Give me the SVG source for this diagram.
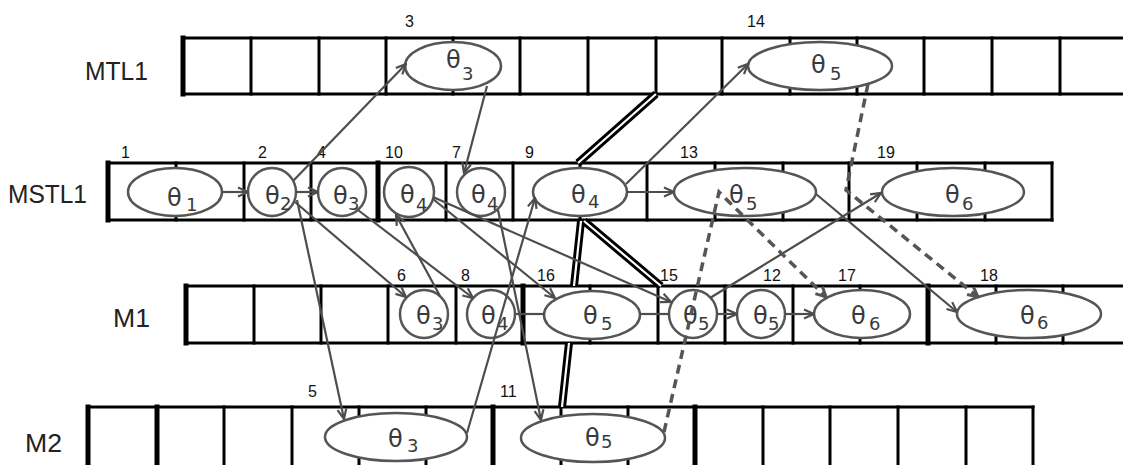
<svg xmlns="http://www.w3.org/2000/svg" width="1123" height="465" viewBox="0 0 1123 465">
<style>
.grid line{stroke:#000;stroke-width:3;stroke-linecap:square}
.grid .tk{stroke-width:5}
.node ellipse,.node circle{fill:#fff;stroke:#555;stroke-width:2.5}
.th{font-family:"DejaVu Sans",sans-serif;font-size:24px;fill:#3a3a3a}
.sub{font-size:18px}
.num{font-family:"Liberation Sans",sans-serif;font-size:16px;fill:#111}
.lane{font-family:"Liberation Sans",sans-serif;font-size:26px;fill:#222}
.conn{stroke:#4d4d4d;stroke-width:2.2;fill:none}
.arr{marker-end:url(#ah)}
.dash{stroke:#555;stroke-width:3.5;stroke-dasharray:9 6;fill:none;marker-end:url(#ahd)}
.dbo{stroke:#000;stroke-width:8;fill:none}
.dbi{stroke:#fff;stroke-width:2.2;fill:none}
</style>
<defs>
<marker id="ah" markerUnits="userSpaceOnUse" markerWidth="12" markerHeight="12" viewBox="0 0 12 12" refX="11" refY="6" orient="auto">
<path d="M1,1.5 L11,6 L1,10.5" fill="none" stroke="#4d4d4d" stroke-width="2.2"/>
</marker>
<marker id="ahd" markerUnits="userSpaceOnUse" markerWidth="14" markerHeight="14" viewBox="0 0 14 14" refX="12" refY="7" orient="auto">
<path d="M2,2 L12,7 L2,12" fill="none" stroke="#555" stroke-width="3"/>
</marker>
</defs>

<!-- lane labels -->
<g id="labels">
<text class="lane" x="85" y="80" textLength="63" lengthAdjust="spacingAndGlyphs">MTL1</text>
<text class="lane" x="8" y="203" textLength="79" lengthAdjust="spacingAndGlyphs">MSTL1</text>
<text class="lane" x="113" y="327" textLength="37" lengthAdjust="spacingAndGlyphs">M1</text>
<text class="lane" x="25" y="452" textLength="37" lengthAdjust="spacingAndGlyphs">M2</text>
</g>

<!-- MTL1 grid -->
<g id="row-MTL1" class="grid">
<line x1="183" y1="38" x2="1125" y2="38"/><line x1="183" y1="94" x2="1125" y2="94"/>
<line class="tk" x1="183" y1="38" x2="183" y2="94"/>
<line x1="251" y1="38" x2="251" y2="94"/><line x1="319" y1="38" x2="319" y2="94"/>
<line x1="386" y1="38" x2="386" y2="94"/><line x1="453" y1="38" x2="453" y2="94"/>
<line x1="520" y1="38" x2="520" y2="94"/><line x1="588" y1="38" x2="588" y2="94"/>
<line x1="656" y1="38" x2="656" y2="94"/><line x1="722" y1="38" x2="722" y2="94"/>
<line x1="790" y1="38" x2="790" y2="94"/><line x1="857" y1="38" x2="857" y2="94"/>
<line x1="924" y1="38" x2="924" y2="94"/><line x1="992" y1="38" x2="992" y2="94"/>
<line x1="1060" y1="38" x2="1060" y2="94"/>
</g>

<!-- MSTL1 grid -->
<g id="row-MSTL1" class="grid">
<line x1="108" y1="163" x2="1052" y2="163"/><line x1="108" y1="220" x2="1052" y2="220"/>
<line class="tk" x1="108" y1="163" x2="108" y2="220"/>
<line x1="176" y1="163" x2="176" y2="220"/><line x1="244" y1="163" x2="244" y2="220"/>
<line x1="311" y1="163" x2="311" y2="220"/><line class="tk" x1="378" y1="163" x2="378" y2="220"/>
<line x1="446" y1="163" x2="446" y2="220"/><line x1="513" y1="163" x2="513" y2="220"/>
<line x1="580" y1="163" x2="580" y2="220"/><line x1="647" y1="163" x2="647" y2="220"/>
<line x1="715" y1="163" x2="715" y2="220"/><line x1="783" y1="163" x2="783" y2="220"/>
<line x1="849" y1="163" x2="849" y2="220"/><line x1="917" y1="163" x2="917" y2="220"/>
<line x1="985" y1="163" x2="985" y2="220"/><line x1="1052" y1="163" x2="1052" y2="220"/>
</g>

<!-- M1 grid -->
<g id="row-M1" class="grid">
<line x1="186" y1="286" x2="1125" y2="286"/><line x1="186" y1="343" x2="1125" y2="343"/>
<line class="tk" x1="186" y1="286" x2="186" y2="343"/>
<line x1="254" y1="286" x2="254" y2="343"/><line x1="321" y1="286" x2="321" y2="343"/>
<line x1="388" y1="286" x2="388" y2="343"/><line x1="456" y1="286" x2="456" y2="343"/>
<line class="tk" x1="523" y1="286" x2="523" y2="343"/><line x1="590" y1="286" x2="590" y2="343"/>
<line x1="658" y1="286" x2="658" y2="343"/><line x1="725" y1="286" x2="725" y2="343"/>
<line x1="793" y1="286" x2="793" y2="343"/><line x1="860" y1="286" x2="860" y2="343"/>
<line class="tk" x1="928" y1="286" x2="928" y2="343"/><line x1="996" y1="286" x2="996" y2="343"/>
<line x1="1063" y1="286" x2="1063" y2="343"/>
</g>

<!-- M2 grid -->
<g id="row-M2" class="grid">
<line x1="88" y1="407" x2="1033" y2="407"/>
<line class="tk" x1="88" y1="407" x2="88" y2="470"/>
<line class="tk" x1="157" y1="407" x2="157" y2="470"/><line x1="224" y1="407" x2="224" y2="470"/>
<line x1="292" y1="407" x2="292" y2="470"/><line x1="359" y1="407" x2="359" y2="470"/>
<line x1="426" y1="407" x2="426" y2="470"/><line class="tk" x1="493" y1="407" x2="493" y2="470"/>
<line x1="561" y1="407" x2="561" y2="470"/><line x1="628" y1="407" x2="628" y2="470"/>
<line class="tk" x1="695" y1="407" x2="695" y2="470"/><line x1="763" y1="407" x2="763" y2="470"/>
<line x1="830" y1="407" x2="830" y2="470"/><line x1="898" y1="407" x2="898" y2="470"/>
<line x1="966" y1="407" x2="966" y2="470"/><line x1="1033" y1="407" x2="1033" y2="470"/>
</g>

<!-- double links -->
<g id="double-links">
<path class="dbo" d="M656,94 L578,163 M581,221 L574,286 M569,343 L562,407 M584,221 L661,286"/>
<path class="dbi" d="M656,94 L578,163 M581,221 L574,286 M569,343 L562,407 M584,221 L661,286"/>
</g>

<!-- nodes -->
<g id="n3" class="node"><ellipse cx="453" cy="66" rx="48" ry="24"/><text class="th" x="446" y="68">θ<tspan class="sub" x="462" y="80">3</tspan></text><text class="num" x="405" y="27">3</text></g>
<g id="n14" class="node"><ellipse cx="820" cy="66" rx="72" ry="24"/><text class="th" x="811" y="73">θ<tspan class="sub" x="830" y="80">5</tspan></text><text class="num" x="747" y="27">14</text></g>

<g id="n1" class="node"><ellipse cx="175" cy="192" rx="47" ry="24"/><text class="th" x="167" y="206">θ<tspan class="sub" x="186" y="211">1</tspan></text><text class="num" x="121" y="158">1</text></g>
<g id="n2" class="node"><circle cx="272" cy="192" r="24"/><text class="th" x="265" y="204">θ<tspan class="sub" x="280" y="210">2</tspan></text><text class="num" x="258" y="158">2</text></g>
<g id="n4" class="node"><circle cx="342" cy="192" r="24"/><text class="th" x="333" y="204">θ<tspan class="sub" x="348" y="210">3</tspan></text><text class="num" x="317" y="158">4</text></g>
<g id="n10" class="node"><circle cx="409" cy="192" r="25"/><text class="th" x="400" y="203">θ<tspan class="sub" x="416" y="211">4</tspan></text><text class="num" x="385" y="158">10</text></g>
<g id="n7" class="node"><circle cx="481" cy="192" r="24"/><text class="th" x="471" y="203">θ<tspan class="sub" x="487" y="210">4</tspan></text><text class="num" x="452" y="158">7</text></g>
<g id="n9" class="node"><ellipse cx="580" cy="192" rx="47" ry="24"/><text class="th" x="571" y="203">θ<tspan class="sub" x="588" y="208">4</tspan></text><text class="num" x="525" y="158">9</text></g>
<g id="n13" class="node"><ellipse cx="745" cy="192" rx="71" ry="24"/><text class="th" x="729" y="203">θ<tspan class="sub" x="746" y="210">5</tspan></text><text class="num" x="680" y="158">13</text></g>
<g id="n19" class="node"><ellipse cx="953" cy="192" rx="71" ry="24"/><text class="th" x="945" y="203">θ<tspan class="sub" x="962" y="210">6</tspan></text><text class="num" x="877" y="158">19</text></g>

<g id="n6" class="node"><circle cx="424" cy="314" r="24"/><text class="th" x="416" y="324">θ<tspan class="sub" x="432" y="330">3</tspan></text><text class="num" x="397" y="281">6</text></g>
<g id="n8" class="node"><circle cx="491" cy="314" r="24"/><text class="th" x="481" y="324">θ<tspan class="sub" x="497" y="330">4</tspan></text><text class="num" x="461" y="281">8</text></g>
<g id="n16" class="node"><ellipse cx="592" cy="315" rx="48" ry="24"/><text class="th" x="583" y="324">θ<tspan class="sub" x="601" y="330">5</tspan></text><text class="num" x="537" y="281">16</text></g>
<g id="n15" class="node"><circle cx="693" cy="314" r="24"/><text class="th" x="683" y="324">θ<tspan class="sub" x="698" y="330">5</tspan></text><text class="num" x="660" y="281">15</text></g>
<g id="n12" class="node"><circle cx="761" cy="314" r="24"/><text class="th" x="753" y="324">θ<tspan class="sub" x="768" y="330">5</tspan></text><text class="num" x="763" y="281">12</text></g>
<g id="n17" class="node"><ellipse cx="862" cy="314" rx="48" ry="24"/><text class="th" x="851" y="324">θ<tspan class="sub" x="869" y="330">6</tspan></text><text class="num" x="838" y="281">17</text></g>
<g id="n18" class="node"><ellipse cx="1029" cy="314" rx="72" ry="24"/><text class="th" x="1020" y="324">θ<tspan class="sub" x="1037" y="329">6</tspan></text><text class="num" x="980" y="281">18</text></g>

<g id="n5" class="node"><ellipse cx="396" cy="437" rx="71" ry="24"/><text class="th" x="388" y="447">θ<tspan class="sub" x="407" y="452">3</tspan></text><text class="num" x="308" y="397">5</text></g>
<g id="n11" class="node"><ellipse cx="593" cy="438" rx="72" ry="24"/><text class="th" x="585" y="446">θ<tspan class="sub" x="601" y="448">5</tspan></text><text class="num" x="500" y="397">11</text></g>

<!-- connectors -->
<g id="connectors">
<path class="conn arr" d="M222,192 L248,192"/>
<path class="conn arr" d="M296,192 L318,192"/>
<path class="conn arr" d="M627,192 L674,192"/>
<path class="conn" d="M515,314 L544,314"/>
<path class="conn" d="M640,314 L669,314"/>
<path class="conn arr" d="M717,314 L737,314"/>
<path class="conn arr" d="M785,314 L814,314"/>
<path class="conn arr" d="M293,181 L406,64"/>
<path class="conn arr" d="M487,86 L464,173"/>
<path class="conn arr" d="M626,184 L748,64"/>
<path class="conn arr" d="M297,200 L344,419"/>
<path class="conn arr" d="M295,202 L406,297"/>
<path class="conn arr" d="M358,210 L473,298"/>
<path class="conn arr" d="M440,296 L396,215"/>
<path class="conn arr" d="M467,433 L535,198"/>
<path class="conn arr" d="M498,210 L541,420"/>
<path class="conn arr" d="M433,199 L555,298"/>
<path class="conn arr" d="M433,197 L671,302"/>
<path class="conn arr" d="M710,298 L881,193"/>
<path class="conn arr" d="M816,194 L957,312"/>
<path class="dash" d="M664,432 L719,192 L826,297"/>
<path class="dash" d="M868,84 L846,190 L978,297"/>
</g>
</svg>
